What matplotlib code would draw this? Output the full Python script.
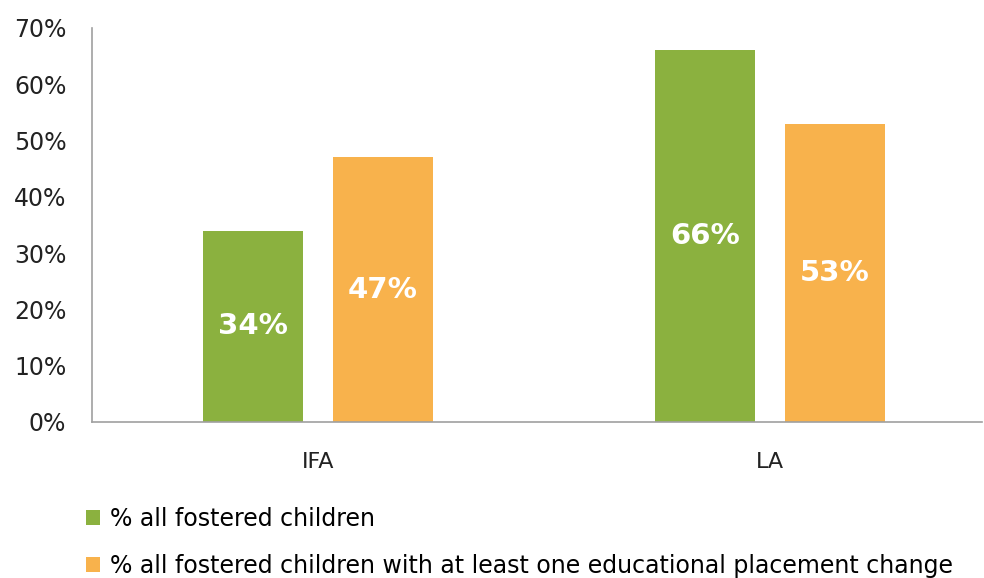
import matplotlib.pyplot as plt
import numpy as np

categories = ["IFA", "LA"]
all_fostered = [34, 66]
with_change = [47, 53]
series_labels = ["% all fostered children",
                 "% all fostered children with at least one educational placement change"]
y_ticks = [0, 10, 20, 30, 40, 50, 60, 70]

green = "#8BB13F"
orange = "#F8B24C"

fig = plt.figure(figsize=(9.84, 5.78), dpi=100)
ax = fig.add_axes([0.0935, 0.27, 0.9045, 0.6817])

x = np.arange(len(categories))
w = 0.221
off = 0.144
b1 = ax.bar(x - off, all_fostered, w, color=green, label=series_labels[0])
b2 = ax.bar(x + off, with_change, w, color=orange, label=series_labels[1])

for bars in (b1, b2):
    for bar in bars:
        h = bar.get_height()
        ax.text(bar.get_x() + bar.get_width() / 2, h / 2, f"{h:.0f}%",
                ha="center", va="center", color="white", fontsize=21, fontweight="bold")

ax.set_xlim(-0.5, 1.47)
ax.set_ylim(0, 70)
ax.set_yticks(y_ticks)
ax.set_yticklabels([f"{t}%" for t in y_ticks], fontsize=17, color="#222222")
ax.set_xticks(x)
ax.set_xticklabels(categories, fontsize=16, color="#222222")
ax.tick_params(axis="both", length=0)
ax.tick_params(axis="y", pad=18.5)
ax.tick_params(axis="x", pad=22)

for s in ("top", "right"):
    ax.spines[s].set_visible(False)
for s in ("left", "bottom"):
    ax.spines[s].set_color("#A0A0A0")
    ax.spines[s].set_linewidth(1.2)

fig.legend(handles=[b1, b2], loc="upper left", bbox_to_anchor=(0.078, 0.14),
           frameon=False, fontsize=17, handlelength=0.6, handleheight=0.6,
           handletextpad=0.4, labelspacing=1.0, borderaxespad=0)

plt.savefig("out.png")
